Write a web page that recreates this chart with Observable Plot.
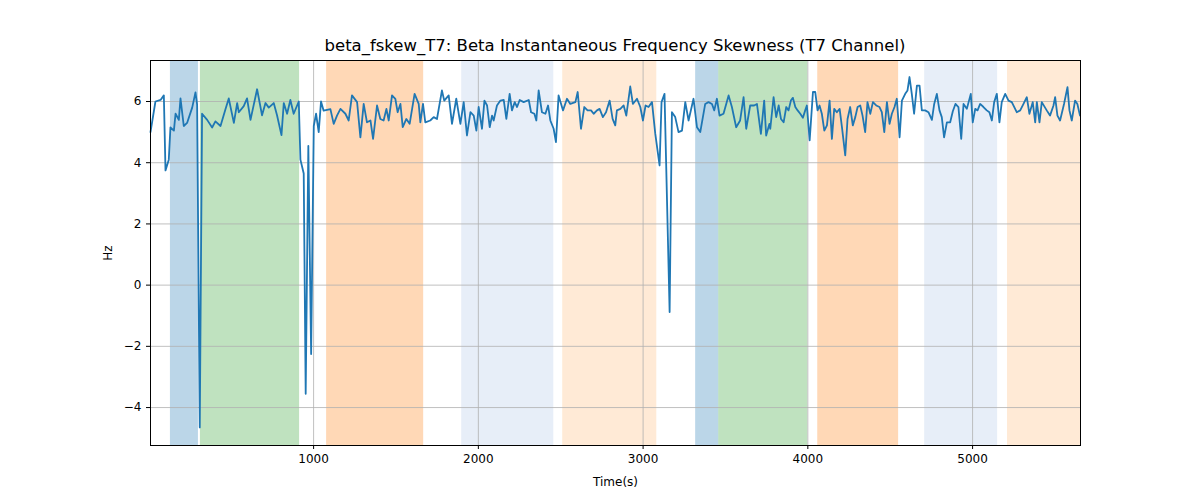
<!DOCTYPE html>
<html><head><meta charset="utf-8">
<script src="https://cdn.jsdelivr.net/npm/d3@7"></script>
<script src="https://cdn.jsdelivr.net/npm/@observablehq/plot@0.6"></script>
<style>
body{margin:0;background:#fff;font-family:"DejaVu Sans",sans-serif;}
#title{width:1200px;height:56px;box-sizing:border-box;padding-left:30px;padding-top:36px;line-height:20px;text-align:center;font-size:16.5px;white-space:nowrap;overflow:visible;}
</style></head><body>
<div id="title">beta_fskew_T7: Beta Instantaneous Frequency Skewness (T7 Channel)</div>
<div id="chart"></div>
<script>
const times = [
10,40,71,91,101,121,131,152,162,182,192,212,232,263,283,293,309,323,354,384,404,435,465,485,516,536,546,576,596,617,657,687,708,728,758,778,805,819,839,859,879,910,920,940,952,968,985,1001,1015,1031,1045,1061,1102,
1122,1142,1163,1193,1213,1233,1264,1284,1304,1324,1345,1361,1385,1405,1425,1442,1456,1476,1496,1510,1527,1541,1563,1583,1613,1638,1648,1664,1678,1708,1729,1749,1779,1793,1820,1840,1866,
1891,1911,1931,1952,1972,1988,2002,2022,2037,2053,2069,2083,2093,2113,2134,2154,2170,2190,2204,2221,2235,2251,2275,2306,2320,2340,2352,2366,2386,2407,2423,2437,2457,2471,2487,2514,2538,2558,2589,2603,2623,2643,2663,2684,2700,2720,2736,2756,2775,2797,2815,2831,2841,2862,2882,2898,2922,2938,2963,2983,2999,3015,3033,3054,3074,3100,3112,3130,3161,3175,3195,3215,3236,3256,3276,3306,3327,3347,3377,3397,3418,3432,3448,3464,3488,3519,3539,3565,3589,3610,3626,3650,3674,3691,3715,3735,3747,3767,
3772,3792,3808,3823,3837,3853,3869,3883,3897,3909,3924,3938,3954,3970,3984,3994,4011,4031,4045,4059,4071,4085,4100,4116,4132,4146,4160,4176,4193,4207,4227,4241,4257,4273,4288,4302,4318,4332,4348,4362,4379,4395,4415,4435,4449,4464,4480,4496,4510,4526,4540,4557,4571,4591,4605,4617,4631,4645,4662,4678,4692,4712,4732,4753,4767,4783,4799,4813,4827,4844,4864,4880,4896,4914,4931,4945,4965,4989,5001,5016,5030,5046,5066,5086,5102,5117,5131,5147,5163,5177,5198,5218,5238,5268,5289,5309,5329,5345,5365,5380,5390,5406,5420,5450,5470,5491,5501,5515,5531,5555,5576,5588,5602,5622,5636,5652
];
const values = [
5.0,6.0,6.05,6.2,3.75,4.1,5.15,5.05,5.6,5.4,6.1,5.2,5.3,5.8,6.3,5.9,-4.65,5.6,5.4,5.15,5.35,5.2,5.75,6.1,5.3,5.95,5.65,5.85,6.1,5.4,6.4,5.55,5.95,5.8,5.95,5.55,4.9,5.95,5.6,6.05,5.6,6.0,4.1,3.65,-3.55,4.55,-2.25,5.2,5.6,5.0,6.0,5.7,5.75,
5.27,5.54,5.76,5.6,5.38,6.2,5.98,4.83,5.92,5.32,5.38,4.78,5.87,5.43,5.38,5.76,5.38,6.2,6.09,5.65,5.92,5.16,5.43,5.27,6.25,5.92,5.32,5.92,5.32,5.38,5.49,5.43,6.36,6.03,6.2,5.27,6.09,
5.27,5.98,4.89,5.65,5.54,5.05,5.82,5.11,6.03,5.87,5.16,5.54,5.38,5.87,6.03,6.05,5.43,6.25,5.71,5.98,5.82,6.05,5.98,6.05,5.65,5.6,5.38,6.36,5.65,5.6,5.87,5.38,5.11,4.67,6.2,5.71,6.09,5.92,5.98,6.31,5.11,5.82,5.71,5.71,5.6,5.71,5.76,5.49,5.65,6.03,5.43,5.22,5.71,5.76,5.87,5.54,6.49,5.92,6.09,5.82,5.38,5.87,5.82,5.98,4.94,3.91,5.98,6.25,-0.88,5.65,5.49,5.0,5.05,5.98,5.38,6.09,5.16,5.0,5.92,5.98,5.92,5.71,6.09,5.54,5.6,6.2,5.82,5.16,5.38,6.14,5.11,5.87,5.87,5.92,4.94,6.03,4.89,5.27,
5.11,6.14,5.49,5.87,5.43,5.32,5.82,5.71,6.03,6.12,5.82,5.71,5.6,5.47,5.71,5.87,4.73,6.31,6.31,5.71,5.87,5.6,5.05,5.22,6.03,4.78,5.76,5.65,5.76,5.16,4.24,5.43,5.82,5.22,5.49,5.82,5.87,5.54,5.0,5.98,5.6,5.98,5.87,5.82,5.65,5.0,5.98,5.27,5.6,5.82,6.09,4.83,6.03,6.25,6.36,6.8,6.25,5.6,6.52,6.52,5.71,5.71,5.65,5.4,5.92,6.25,5.71,5.49,4.83,5.32,5.32,5.68,5.92,5.82,4.78,5.92,5.76,6.25,5.32,5.76,5.71,5.92,5.82,5.71,5.65,5.38,5.98,6.25,5.32,5.98,6.25,6.03,5.98,5.65,5.71,5.92,6.14,5.6,5.98,5.32,5.98,5.32,5.98,5.71,5.54,5.87,6.14,5.54,5.38,5.92,6.47,5.71,5.38,6.03,5.92,5.54
];
const spanStart = [131, 313, 1079, 1899, 2512, 3319, 3459, 4060, 4709, 5212];
const spanEnd   = [301, 915, 1668, 2458, 3083, 3459, 4000, 4551, 5152, 5660];
const spanColor = ["#1f77b4","#2ca02c","#ff7f0e","#aec7e8","#ffbb78","#1f77b4","#2ca02c","#ff7f0e","#aec7e8","#ffbb78"];
const xTicks = [1000,2000,3000,4000,5000];
const yTicks = [-4,-2,0,2,4,6];

const series = times.map((t,i)=>({t, v: values[i]}));
const spans = spanStart.map((s,i)=>({x1:s, x2:spanEnd[i], c:spanColor[i]}));

const chart = Plot.plot({
  width: 1200, height: 444,
  marginLeft: 150, marginRight: 120, marginTop: 4, marginBottom: 55,
  style: {fontFamily: "DejaVu Sans, sans-serif", fontSize: "12px", background: "#fff"},
  x: {domain: [10, 5655], ticks: xTicks, tickFormat: d => String(d), label: "Time(s)", labelArrow: "none", labelAnchor: "center", labelOffset: 40, tickSize: 4},
  y: {domain: [-5.24, 7.34], ticks: yTicks, tickFormat: d => d < 0 ? "\u2212" + Math.abs(d) : String(d), label: "Hz", labelArrow: "none", labelAnchor: "center", labelOffset: 47, tickSize: 4},
  marks: [
    Plot.rectX(spans, {x1: "x1", x2: "x2", y1: -5.24, y2: 7.34, fill: d => d.c, fillOpacity: 0.3}),
    Plot.gridX(xTicks, {stroke: "#b0b0b0", strokeOpacity: 1, strokeWidth: 0.8}),
    Plot.gridY(yTicks, {stroke: "#b0b0b0", strokeOpacity: 1, strokeWidth: 0.8}),
    Plot.line(series, {x: "t", y: "v", stroke: "#1f77b4", strokeWidth: 1.8}),
    Plot.frame({stroke: "#000", strokeWidth: 1})
  ]
});
document.getElementById("chart").appendChild(chart);
</script>
</body></html>
